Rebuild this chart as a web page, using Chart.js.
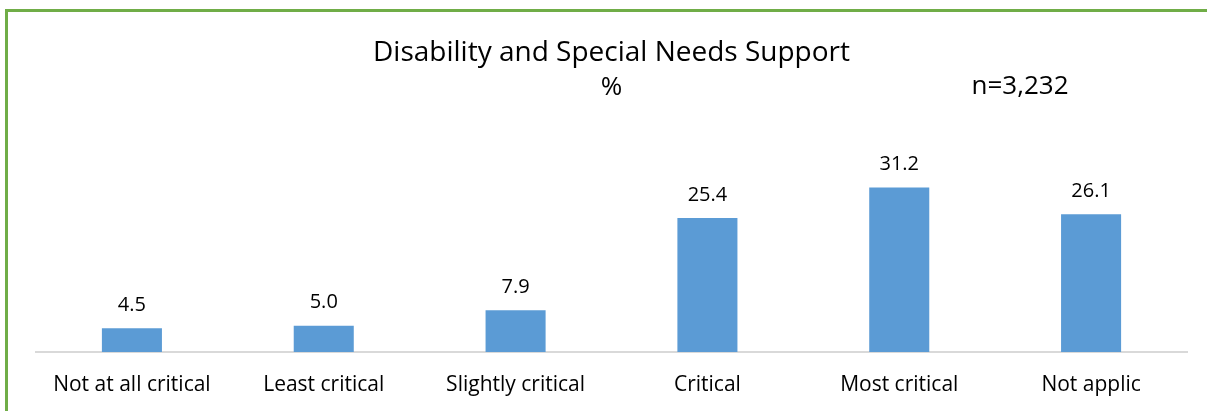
<!DOCTYPE html>
<html>
<head>
<meta charset="utf-8">
<title>Disability and Special Needs Support</title>
<script src="https://cdn.jsdelivr.net/npm/chart.js@4"></script>
<style>
  body { margin: 0; background: #fff; }
  #frame {
    position: absolute; left: 5px; top: 9px; width: 1210px; height: 410px;
    border-left: 3px solid #70ad47; border-top: 3px solid #70ad47;
  }
  #wrap { position: absolute; left: 0; top: 0; width: 1207px; height: 411px; }
</style>
</head>
<body>
<div id="frame"></div>
<div id="wrap"><canvas id="grafico"></canvas></div>
<script>
const categorias = ['Not at all critical', 'Least critical', 'Slightly critical', 'Critical', 'Most critical', 'Not applic'];
const valores = [4.5, 5.0, 7.9, 25.4, 31.2, 26.1];
const amostra = 'n=3,232';

const fonte = "'Open Sans', sans-serif";

// valores em cima das barras + o n no canto
const rotulos = {
    id: 'rotulos',
    afterDatasetsDraw(chart) {
        const ctx = chart.ctx;
        const meta = chart.getDatasetMeta(0);
        ctx.save();
        ctx.fillStyle = '#000';
        ctx.font = '20px ' + fonte;
        ctx.textAlign = 'center';
        ctx.textBaseline = 'bottom';
        meta.data.forEach((bar, i) => {
            ctx.fillText(valores[i].toFixed(1), bar.x, bar.y - 13);
        });
        ctx.font = '26px ' + fonte;
        ctx.textBaseline = 'middle';
        ctx.fillText(amostra, 1020, 87);
        ctx.restore();
    }
};

const ctx = document.getElementById('grafico').getContext('2d');

new Chart(ctx, {
    type: 'bar',
    data: {
        labels: categorias,
        datasets: [{
            data: valores,
            backgroundColor: '#5b9bd5',
            borderWidth: 0,
            categoryPercentage: 1,
            barPercentage: 0.313
        }]
    },
    options: {
        responsive: true,
        maintainAspectRatio: false,
        animation: false,
        layout: { padding: { left: 36, right: 20, top: 0, bottom: 0 } },
        plugins: {
            legend: { display: false },
            tooltip: { enabled: false },
            title: {
                display: true,
                text: 'Disability and Special Needs Support',
                color: '#000',
                font: { family: fonte, size: 28, weight: 'normal', lineHeight: '28px' },
                padding: { top: 39, bottom: 3 }
            },
            subtitle: {
                display: true,
                text: '%',
                color: '#000',
                font: { family: fonte, size: 26, weight: 'normal', lineHeight: '28px' },
                padding: { top: 4, bottom: 39 }
            }
        },
        scales: {
            x: {
                grid: { display: false },
                border: { display: true, color: '#d9d9d9', width: 2 },
                ticks: { color: '#000', font: { family: fonte, size: 21 }, padding: 12, maxRotation: 0 },
                afterFit(scale) { scale.height = 59; }
            },
            y: {
                display: false,
                min: 0,
                max: 40
            }
        }
    },
    plugins: [rotulos]
});
</script>
</body>
</html>
